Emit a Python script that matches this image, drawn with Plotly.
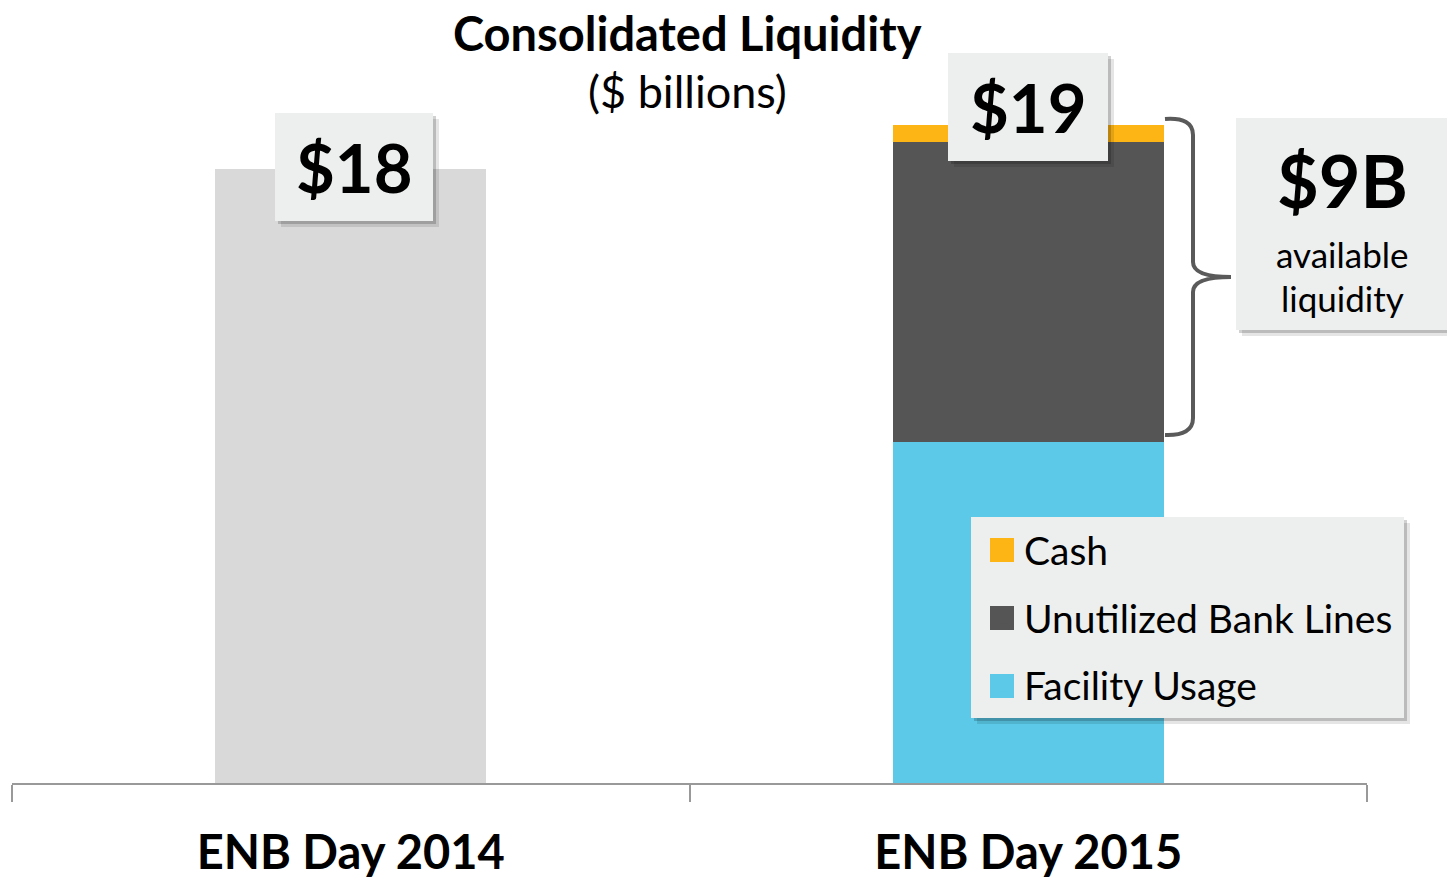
import plotly.graph_objects as go

# ---- data ----
categories = ["ENB Day 2014", "ENB Day 2015"]
total_2014 = [18.0, None]
facility_usage = [None, 10.0]
unutilized_lines = [None, 8.8]
cash = [None, 0.5]
label_values = ["$18", "$19"]
available_label = "$9B"

FONT = "Lato, 'Open Sans', sans-serif"
W, H = 1447, 878
PX0, PX1, PY0, PY1 = 12, 1367, 101, 783          # plot area in page pixels
L, R = PX0, W - PX1
T, B = PY0, H - PY1
PW, PH = PX1 - PX0, PY1 - PY0


def X(px):
    return (px - PX0) / PW


def Y(py):
    return (PY1 - py) / PH


fig = go.Figure()
fig.add_trace(go.Bar(x=categories, y=total_2014, marker_color="#d9d9d9",
                     marker_line_width=0, showlegend=False, width=0.4, hoverinfo="skip"))
fig.add_trace(go.Bar(x=categories, y=facility_usage, name="Facility Usage",
                     marker_color="#5bc9e7", marker_line_width=0, width=0.4,
                     legendgroup="a", legendrank=3))
fig.add_trace(go.Bar(x=categories, y=unutilized_lines, name="Unutilized Bank Lines",
                     marker_color="#555555", marker_line_width=0, width=0.4,
                     legendgroup="b", legendrank=2))
fig.add_trace(go.Bar(x=categories, y=cash, name="Cash",
                     marker_color="#fdb515", marker_line_width=0, width=0.4,
                     legendgroup="c", legendrank=1))

shapes = []


def rect(x0, y0, x1, y1, color):
    shapes.append(dict(type="rect", xref="paper", yref="paper", layer="above",
                       x0=X(x0), x1=X(x1), y0=Y(y0), y1=Y(y1),
                       fillcolor=color, line_width=0))


def box(x0, y0, x1, y1):
    rect(x0 + 6, y0 + 6, x1 + 6, y1 + 6, "rgba(0,0,0,0.10)")
    rect(x0 + 3, y0 + 3, x1 + 3, y1 + 3, "rgba(0,0,0,0.18)")
    rect(x0, y0, x1, y1, "#edefef")


box(275, 113, 433, 221)
box(948, 53, 1108, 161)
box(1236, 118, 1470, 330)
box(971, 517, 1404, 718)

# legend colour squares (bigger than plotly's own bar swatches)
for cy, col in [(550, "#fdb515"), (618, "#555555"), (686, "#5bc9e7")]:
    rect(990, cy - 12, 1014, cy + 12, col)


def p(px, py):
    return f"{X(px):.5f},{Y(py):.5f}"


path = (f"M {p(1165,119)} Q {p(1193,117)} {p(1193,135)} L {p(1193,262)} "
        f"Q {p(1193,277)} {p(1231,277)} Q {p(1193,277)} {p(1193,292)} "
        f"L {p(1193,418)} Q {p(1193,436)} {p(1165,435)}")
shapes.append(dict(type="path", xref="paper", yref="paper", path=path, layer="above",
                   line=dict(color="#5a5a5a", width=4)))


def ann(text, px, py, size):
    return dict(text=text, x=X(px), y=Y(py), xref="paper", yref="paper",
                xanchor="center", yanchor="middle", showarrow=False,
                font=dict(size=size, color="black", family=FONT))


annotations = [
    ann("<b>Consolidated Liquidity</b>", 687, 33, 47),
    ann("($ billions)", 687, 91, 45),
    ann(f"<b>{label_values[0]}</b>", 354, 167, 67),
    ann(f"<b>{label_values[1]}</b>", 1028, 107, 67),
    ann(f"<b>{available_label}</b>", 1342, 180, 72),
    ann("available", 1342, 254, 35),
    ann("liquidity", 1342, 298, 35),
]

fig.update_layout(
    width=W, height=H,
    margin=dict(l=L, r=R, t=T, b=B, autoexpand=False),
    barmode="stack",
    plot_bgcolor="white", paper_bgcolor="white",
    shapes=shapes, annotations=annotations,
    showlegend=True,
    legend=dict(x=X(984), y=Y(518), xanchor="left", yanchor="top",
                traceorder="grouped", tracegroupgap=14,
                bgcolor="rgba(0,0,0,0)", borderwidth=0,
                font=dict(size=39, color="black", family=FONT),
                itemsizing="constant"),
    xaxis=dict(range=[-0.5, 1.5], showline=True, linecolor="#999999", linewidth=2,
               ticks="outside", tickson="boundaries", ticklen=17, tickcolor="#999999",
               tickwidth=1.5, ticklabelstandoff=28, automargin=False,
               tickfont=dict(size=47, color="black", family=FONT, weight="bold"),
               showgrid=False),
    yaxis=dict(range=[0, 20], visible=False, showgrid=False, automargin=False),
)

fig.write_html("out.html", config={"displayModeBar": False},
               post_script="document.body.style.margin='0';document.body.style.overflow='hidden';")
